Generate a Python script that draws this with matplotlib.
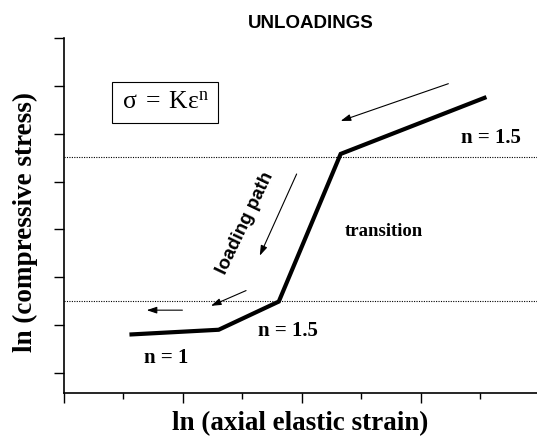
import matplotlib
matplotlib.use('Agg')
import matplotlib.pyplot as plt

# piecewise log-log curve (arbitrary ln units)
curve_x = [1.10, 2.60, 3.61, 4.65, 7.10]
curve_y = [0.80, 0.90, 1.49, 4.58, 5.77]

# horizontal reference levels (dotted)
levels = [1.50, 4.51]

# arrows: (start_x, start_y, end_x, end_y)
arrows = [
    (6.46, 6.05, 4.65, 5.27),
    (3.91, 4.16, 3.29, 2.45),
    (3.06, 1.72, 2.47, 1.40),
    (1.99, 1.31, 1.39, 1.31),
]

# exponent labels
n_labels = ['n = 1.5', 'n = 1.5', 'n = 1']
n_x = [7.18, 3.76, 1.71]
n_y = [4.91, 0.87, 0.31]

serif = 'Liberation Serif'
sans = 'Liberation Sans'

fig = plt.figure(figsize=(5.37, 4.4), dpi=100)
# 59.5 px per x unit, 47.7 px per y unit
ax = fig.add_axes([64/537, 1 - 393.3/440, 473/537, (393.3 - 38.3)/440])

ax.plot(curve_x, curve_y, color='black', lw=3.0, solid_joinstyle='miter', solid_capstyle='butt')
for lv in levels:
    ax.axhline(lv, color='black', lw=0.8, ls=(0, (1, 1.2)))

for x0, y0, x1, y1 in arrows:
    ax.annotate('', xy=(x1, y1), xytext=(x0, y0),
                arrowprops=dict(arrowstyle='-|>,head_length=0.6,head_width=0.2',
                                color='black', lw=0.8, shrinkA=0, shrinkB=0))

for lab, tx, ty in zip(n_labels, n_x, n_y):
    ax.text(tx, ty, lab, ha='center', va='center', family=serif,
            fontweight='bold', fontsize=15)

ax.text(5.38, 2.95, 'transition', ha='center', va='center', family=serif,
        fontweight='bold', fontsize=13.5)
ax.text(3.04, 3.14, 'loading path', ha='center', va='center', family=sans,
        fontsize=13.5, fontweight='bold', rotation=64.5)

plt.rcParams['mathtext.fontset'] = 'custom'
plt.rcParams['mathtext.rm'] = serif
ax.text(1.70, 5.66, r'$\mathrm{σ\,=\,Kε^n}$', ha='center', va='center',
        fontsize=18.5, family=serif,
        bbox=dict(boxstyle='square,pad=0.36', fc='white', ec='black', lw=0.8))

ax.set_xlim(0, 7.95)
ax.set_ylim(-0.43, 7.0)
ax.set_xticks([0, 2, 4, 6])
ax.set_xticks([1, 3, 5, 7], minor=True)
ax.set_yticks(range(0, 8))
ax.set_xticklabels([])
ax.set_yticklabels([])
ax.tick_params(axis='x', which='major', length=7, width=1.0, direction='out')
ax.tick_params(axis='x', which='minor', length=4, width=1.0, direction='out')
ax.tick_params(axis='y', which='major', length=7, width=1.0, direction='out')
for side in ['top', 'right']:
    ax.spines[side].set_visible(False)
for side in ['left', 'bottom']:
    ax.spines[side].set_linewidth(1.2)

fig.text(311/537, 1 - 24/440, 'UNLOADINGS', ha='center', va='center',
         family=sans, fontweight='bold', fontsize=13.5)
fig.text(300/537, 1 - 424/440, 'ln (axial elastic strain)', ha='center', va='center',
         family=serif, fontweight='bold', fontsize=19.5)
fig.text(25.5/537, 1 - 222/440, 'ln (compressive stress)', ha='center', va='center',
         family=serif, fontweight='bold', fontsize=19.5, rotation=90)

fig.savefig('out.png', dpi=100)
